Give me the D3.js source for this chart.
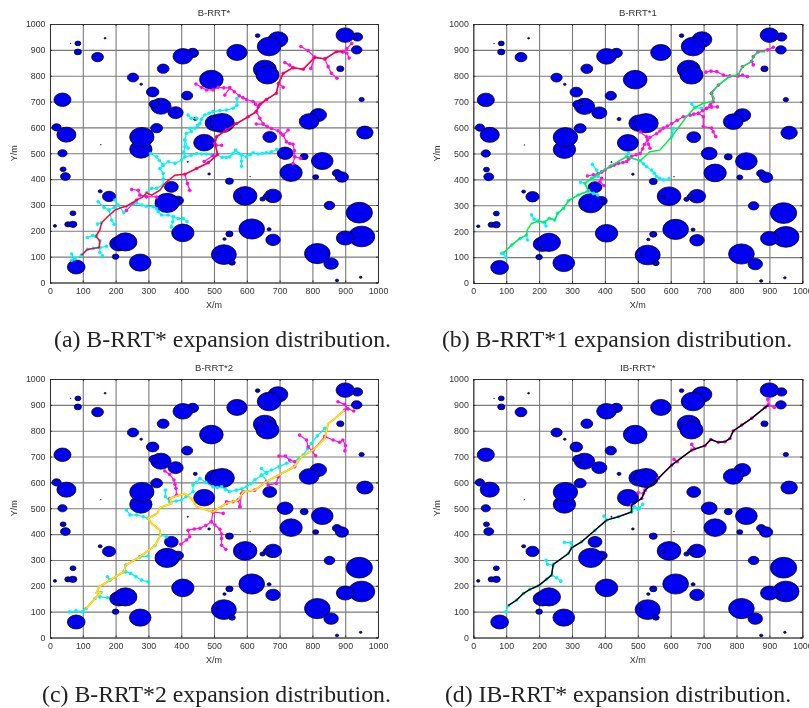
<!DOCTYPE html>
<html>

<head>
    <meta charset="utf-8">
    <title>Expansion distribution</title>
    <style>
        html, body { margin: 0; padding: 0; background: #fff; overflow: hidden; }
        svg { display: block; filter: blur(0.3px); }
    </style>
</head>

<body>
    <div id="svgContainer"></div>
    <script src="https://d3js.org/d3.v7.min.js"></script>
    <script>
        // obstacles: x, y, radius (same map in all four panels)
        var obstacles = [
            [80,60,27],[275,77,33],[200,100,10],[210,150,28],[230,157,35],[405,192,34],[530,108,38],[510,113,5],
            [555,77,10],[815,112,39],[857,73,22],[950,178,40],[900,172,27],[943,270,40],[852,298,16],[875,8,5],
            [947,20,4],[615,207,39],[680,165,22],[668,206,6],[547,188,11],[532,168,5],[595,335,36],[578,332,5],
            [680,335,26],[648,323,8],[660,333,10],[390,317,17],[357,308,37],[370,370,21],[180,333,20],[153,353,6],
            [70,268,9],[55,225,10],[70,225,12],[15,219,5],[547,392,12],[485,420,4],[735,425,34],[810,408,9],
            [830,470,33],[875,423,14],[890,408,20],[775,487,12],[717,500,24],[670,563,21],[470,541,32],[505,617,32],
            [525,617,37],[960,580,25],[818,648,25],[790,623,30],[277,515,34],[280,563,37],[325,597,18],[50,572,29],
            [20,600,14],[38,500,14],[40,438,9],[47,410,15],[38,707,26],[313,737,19],[338,682,31],[317,690,15],
            [383,657,23],[418,723,17],[443,633,6],[253,793,17],[278,767,4],[345,827,18],[435,888,18],[405,875,30],
            [492,785,36],[570,890,31],[633,955,7],[695,940,30],[668,913,36],[655,825,35],[663,803,35],[937,950,16],
            [900,957,28],[935,900,16],[885,827,11],[950,708,8],[85,925,9],[85,892,11],[145,872,18],[168,945,3],
            [63,925,1],[420,467,2],[610,410,1],[155,533,1]
        ];

        var titles = ["B-RRT*", "B-RRT*1", "B-RRT*2", "IB-RRT*"];
        var captions = ["(a) B-RRT* expansion distribution.", "(b) B-RRT*1 expansion distribution.",
            "(c) B-RRT*2 expansion distribution.", "(d) IB-RRT* expansion distribution."];
        var tickValues = [0, 100, 200, 300, 400, 500, 600, 700, 800, 900, 1000];

        // final path of each panel
        var pathA = [[96,106],[114,128],[132,132],[150,135],[152,161],[140,179],[152,203],[157,231],[178,257],[198,280],[218,290],[233,295],[264,319],[284,332],[294,347],[310,338],[335,357],[352,386],[381,415],[411,419],[447,441],[482,463],[511,495],[503,538],[508,564],[538,590],[569,615],[604,641],[629,661],[640,690],[660,708],[690,732],[697,770],[711,809],[741,831],[772,825],[807,871],[838,865],[873,893],[893,893]];
        var pathB = [[91,115],[117,147],[142,172],[162,185],[164,205],[177,230],[198,239],[216,234],[231,250],[248,243],[256,269],[274,288],[289,317],[319,340],[350,355],[339,385],[360,404],[390,430],[420,453],[466,488],[507,472],[537,507],[567,513],[603,565],[648,642],[674,678],[699,694],[724,700],[733,713],[722,735],[745,764],[780,799],[805,803],[818,835],[846,855],[851,874],[866,893],[887,893]];
        var pathC = [[110,112],[137,151],[155,174],[142,174],[150,196],[183,222],[225,254],[231,280],[274,312],[320,355],[337,396],[335,415],[310,441],[299,461],[327,480],[335,502],[371,519],[365,538],[411,557],[431,538],[447,506],[497,486],[538,519],[574,532],[589,564],[624,570],[660,603],[746,661],[766,699],[802,725],[838,770],[848,828],[863,841],[898,880]];
        var pathD = [[106,123],[132,145],[152,170],[172,186],[198,200],[223,226],[238,241],[243,283],[289,325],[299,347],[329,370],[370,415],[405,454],[441,467],[481,486],[481,512],[512,538],[522,570],[562,615],[603,667],[664,725],[704,742],[722,766],[745,755],[765,757],[780,770],[790,799],[816,822],[846,848],[887,890],[897,899]];
        var pathColors = ["#ff0033", "#00ee44", "#ffee00", "#000000"];

        // tree branches, start side
        var cyanA = [
            [[66,110],[75,92],[96,104]], [[66,86],[75,92]], [[152,135],[152,116],[160,103]], [[152,135],[172,140]],
            [[96,106],[114,128],[132,132],[150,135],[152,161],[140,179]], [[114,174],[130,182],[140,179]],
            [[147,312],[165,290],[180,280],[196,290]], [[157,231],[145,226]], [[180,280],[188,241],[196,225]],
            [[198,319],[208,299],[225,271]],
            [[233,295],[254,303],[264,308],[280,300],[294,295],[315,293],[325,285],[330,274],[340,261],[360,261],[376,254],[391,247],[406,247],[418,235]],
            [[376,254],[374,235],[370,215]],
            [[294,347],[310,364],[325,364],[345,377],[345,400],[345,422],[335,441],[345,454],[333,473],[325,486],[307,499]],
            [[345,454],[361,467],[381,461],[401,474],[411,486],[408,505],[411,525],[411,551],[416,577],[431,584],[426,597],[442,597],[450,608],[457,615],[462,632],[472,648],[485,655],[497,661],[518,665],[538,667],[558,674],[570,686],[570,712]],
            [[421,648],[431,635],[447,635]],
            [[411,486],[430,492],[447,499],[462,497],[477,497],[492,495],[508,493],[525,484],[537,484],[548,486],[558,500],[566,512],[575,500],[584,493],[584,470],[584,450]],
            [[584,493],[599,486],[610,494],[619,502],[634,497],[647,500],[660,502],[675,506],[692,515]], [[411,551],[421,520]]
        ];
        var magentaA = [
            [[893,893],[905,905],[920,925]], [[893,893],[905,888],[912,868]], [[838,865],[848,835],[858,809],[875,790]],
            [[807,871],[787,897],[765,913]], [[807,871],[795,828]], [[741,831],[716,851],[731,841]],
            [[697,770],[711,755]],
            [[660,708],[635,680],[627,690],[619,700],[599,708],[588,715],[577,722],[562,738],[548,753],[530,753],[513,755],[497,745],[477,745],[462,755],[445,768]],
            [[548,753],[533,725]], [[629,661],[640,635],[650,613],[629,613]],
            [[650,613],[662,603],[675,596],[695,587],[703,578],[711,570],[726,590]],
            [[711,570],[721,544],[731,538],[741,535],[745,510],[746,486],[741,460]], [[746,486],[764,480]],
            [[411,419],[419,383],[426,357]], [[294,332],[274,338],[269,357],[249,360]], [[294,332],[325,331]], [[233,279],[264,319]],
            [[497,491],[470,468]], [[507,531],[523,531]],
            [[447,441],[482,463],[511,495],[503,538],[508,564],[538,590],[569,615],[604,641],[629,661],[640,690],[660,708],[690,732],[697,770],[711,809],[741,831],[772,825],[807,871],[838,865],[873,893],[893,893]]
        ];
        var cyanB = [
            [[86,115],[91,115],[99,99]], [[91,115],[117,147],[142,172],[162,185],[165,166]], [[177,263],[185,246],[198,239]],
            [[216,234],[221,220]],
            [[198,239],[216,234],[231,250],[248,243],[256,269],[274,288],[289,317],[319,340],[350,355],[339,385],[326,389]],
            [[362,458],[375,436],[380,411],[360,404]], [[350,355],[365,346],[378,340]],
            [[360,404],[390,430],[420,453],[466,488],[507,472],[517,460],[527,449],[542,436],[550,424],[557,411],[567,404],[578,398],[595,402]],
            [[471,501],[466,488]], [[608,597],[603,565]], [[664,691],[674,678],[694,674]]
        ];
        var magentaB = [
            [[912,910],[895,900],[866,893]], [[851,842],[846,855]],
            [[833,797],[818,803],[805,799],[780,799],[760,803],[740,816],[722,818],[707,814]],
            [[866,893],[851,874],[846,855],[818,835],[805,803]],
            [[724,732],[729,700],[720,688],[709,674],[697,665],[684,655],[670,652],[659,648],[638,642],[620,628],[603,615],[590,606],[578,598],[567,587],[557,576],[537,563],[530,552],[520,535],[515,518],[507,500],[495,495],[481,488],[472,478],[466,469],[455,465],[441,462],[428,455],[416,449],[401,436],[390,428],[380,423],[365,418],[347,413]],
            [[537,520],[532,536],[527,564],[507,583]], [[390,404],[385,391],[397,376]],
            [[684,655],[699,642],[699,604],[724,598],[729,584],[737,565]], [[724,680],[742,680]], [[709,674],[724,680]], [[724,732],[745,764],[780,799]]
        ];
        var cyanC = [
            [[59,99],[79,103],[99,99],[110,112],[137,151],[155,174]], [[152,157],[175,154]], [[175,235],[183,222]],
            [[231,254],[246,248],[262,235],[279,222],[299,215]],
            [[183,222],[225,254],[231,280],[274,312],[299,315]], [[274,312],[320,355],[337,396],[355,390]],
            [[233,493],[244,474],[264,474],[284,467],[299,461]],
            [[352,570],[352,545],[365,525],[385,528],[401,532],[415,545],[436,564],[436,590],[447,600],[457,615],[475,600],[497,583],[510,580],[523,583],[536,572],[548,564],[568,570],[585,575],[599,583],[612,595],[625,610],[645,628],[660,638],[675,648],[698,660],[721,674],[746,680],[760,695],[772,706],[785,730],[797,751],[815,780],[838,809]],
            [[645,654],[660,635]], [[670,596],[645,628]]
        ];
        var magentaC = [
            [[878,912],[898,902],[908,885],[926,876]], [[898,880],[908,885]],
            [[838,777],[863,764],[883,755],[893,764],[901,742],[899,722]],
            [[761,783],[782,764],[787,738],[810,703]], [[698,702],[718,702],[731,686],[746,680]],
            [[665,590],[690,596],[696,622]], [[584,557],[579,506]], [[558,525],[538,525]], [[497,486],[528,480]], [[574,532],[579,506]],
            [[497,486],[492,448],[503,435],[518,419],[523,400],[523,383],[523,357],[536,341]],
            [[492,448],[475,433],[457,422],[440,420],[421,415],[426,390],[416,377],[399,361]],
            [[350,644],[365,631],[378,609],[381,593],[384,577],[386,551],[365,538]], [[802,725],[838,777]],
            [[497,486],[538,519],[574,532],[589,564],[624,570],[660,603],[746,661]]
        ];
        var cyanD = [
            [[99,99],[106,123],[132,145],[152,170],[172,186],[198,200],[223,226],[238,241],[243,283],[289,325],[299,347],[329,370],[370,415],[405,454],[441,467],[481,486]],
            [[221,299],[226,283],[243,280]], [[277,368],[297,366],[299,347]], [[238,241],[253,231],[266,218]],
            [[397,470],[405,454]], [[481,486],[490,505],[501,495],[515,516]], [[490,505],[505,500]]
        ];
        var magentaD = [
            [[895,921],[897,899],[915,890]], [[664,747],[672,730]], [[610,689],[620,680]], [[501,561],[517,557],[522,570]],
            [[481,512],[512,538],[522,570],[562,615],[603,667],[664,725],[704,742],[722,766],[745,755],[765,757],[780,770],[790,799],[816,822],[846,848],[887,890],[897,899]]
        ];

        var paths = [pathA, pathB, pathC, pathD];
        var cyanTrees = [cyanA, cyanB, cyanC, cyanD];
        var magentaTrees = [magentaA, magentaB, magentaC, magentaD];

        var panelX = [[50, 378], [473.3, 802.3], [50, 378], [473.3, 802.3]];
        var panelY = [[282.5, 24], [283, 24], [637.5, 379], [637.5, 379]];
        var captionX = [222.5, 617, 216.5, 618];
        var captionY = [347, 347, 702, 702];
        var labelFont = "'Liberation Sans', Arial, sans-serif";

        var svg = d3.select("#svgContainer")
            .append("svg")
            .attr("width", 809)
            .attr("height", 708)
            .attr("viewBox", [0, 0, 809, 708]);

        titles.forEach(function(title, i) {
            var xScale = d3.scaleLinear().domain([0, 1000]).range(panelX[i]);
            var yScale = d3.scaleLinear().domain([0, 1000]).range(panelY[i]);
            var line = d3.line().x(d => xScale(d[0])).y(d => yScale(d[1]));
            var chart = svg.append("g").attr("class", "panel");

            // grid
            chart.append("g").attr("class", "grid")
                .attr("transform", "translate(0," + panelY[i][0] + ")")
                .call(d3.axisBottom(xScale).tickValues(tickValues).tickSize(panelY[i][1] - panelY[i][0]).tickFormat(""))
                .call(g => g.select(".domain").remove())
                .selectAll("line").attr("stroke", "#7a7a7a").attr("stroke-width", 1.1);
            chart.append("g").attr("class", "grid")
                .attr("transform", "translate(" + panelX[i][0] + ",0)")
                .call(d3.axisLeft(yScale).tickValues(tickValues).tickSize(panelX[i][0] - panelX[i][1]).tickFormat(""))
                .call(g => g.select(".domain").remove())
                .selectAll("line").attr("stroke", "#7a7a7a").attr("stroke-width", 1.1);

            // obstacles
            chart.append("g").selectAll("ellipse")
                .data(obstacles)
                .enter()
                .append("ellipse")
                .attr("cx", d => xScale(d[0]))
                .attr("cy", d => yScale(d[1]))
                .attr("rx", d => xScale(d[2]) - xScale(0))
                .attr("ry", d => yScale(0) - yScale(d[2]))
                .attr("fill", "#0000f0")
                .attr("stroke", "#000010")
                .attr("stroke-width", 0.8);

            // trees
            [[cyanTrees[i], "#00f4f4"], [magentaTrees[i], "#ff10e0"]].forEach(function(tree) {
                var g = chart.append("g");
                g.selectAll("path")
                    .data(tree[0])
                    .enter()
                    .append("path")
                    .attr("d", line)
                    .attr("fill", "none")
                    .attr("stroke", tree[1])
                    .attr("stroke-width", 1.2);
                g.selectAll("circle")
                    .data(tree[0].flat())
                    .enter()
                    .append("circle")
                    .attr("cx", d => xScale(d[0]))
                    .attr("cy", d => yScale(d[1]))
                    .attr("r", 1.8)
                    .attr("fill", tree[1]);
            });

            // final path
            if (i == 2) {
                chart.append("path").datum(paths[i])
                    .attr("d", line).attr("fill", "none")
                    .attr("stroke", "#ff9a20").attr("stroke-width", 1.9);
            }
            chart.append("path").datum(paths[i])
                .attr("d", line).attr("fill", "none")
                .attr("stroke", pathColors[i]).attr("stroke-width", i == 2 ? 1.2 : 1.5);

            // axes box and labels
            chart.append("g").attr("class", "axis")
                .attr("transform", "translate(0," + panelY[i][0] + ")")
                .call(d3.axisBottom(xScale).tickValues(tickValues).tickSize(-2).tickPadding(5).tickFormat(d3.format("d")));
            chart.append("g").attr("class", "axis")
                .attr("transform", "translate(" + panelX[i][0] + ",0)")
                .call(d3.axisLeft(yScale).tickValues(tickValues).tickSize(-2).tickPadding(4.5).tickFormat(d3.format("d")));
            chart.append("g").attr("class", "axis")
                .attr("transform", "translate(0," + panelY[i][1] + ")")
                .call(d3.axisTop(xScale).tickValues(tickValues).tickSize(-2).tickFormat(""));
            chart.append("g").attr("class", "axis")
                .attr("transform", "translate(" + panelX[i][1] + ",0)")
                .call(d3.axisRight(yScale).tickValues(tickValues).tickSize(-2).tickFormat(""));
            chart.selectAll(".axis .domain").attr("stroke", "#333").attr("stroke-width", 1);
            chart.selectAll(".axis line").attr("stroke", "#222").attr("stroke-width", 0.9);
            chart.selectAll(".axis text")
                .attr("fill", "#333")
                .style("font-family", labelFont)
                .style("font-size", "8.8px");

            chart.append("text")
                .attr("x", (panelX[i][0] + panelX[i][1]) / 2)
                .attr("y", panelY[i][1] - 8)
                .attr("text-anchor", "middle")
                .attr("fill", "#333")
                .style("font-family", labelFont)
                .style("font-size", "9.5px")
                .text(title);
            chart.append("text")
                .attr("x", (panelX[i][0] + panelX[i][1]) / 2)
                .attr("y", panelY[i][0] + 25)
                .attr("text-anchor", "middle")
                .attr("fill", "#333")
                .style("font-family", labelFont)
                .style("font-size", "9px")
                .text("X/m");
            chart.append("text")
                .attr("transform", "translate(" + (panelX[i][0] - 33) + "," + ((panelY[i][0] + panelY[i][1]) / 2) + ") rotate(-90)")
                .attr("text-anchor", "middle")
                .attr("fill", "#333")
                .style("font-family", labelFont)
                .style("font-size", "9px")
                .text("Y/m");

            chart.append("text")
                .attr("x", captionX[i])
                .attr("y", captionY[i])
                .attr("text-anchor", "middle")
                .attr("fill", "#222")
                .style("font-family", "'Liberation Serif', 'Times New Roman', serif")
                .style("font-size", "23.8px")
                .text(captions[i]);
        });
    </script>

</body>

</html>
